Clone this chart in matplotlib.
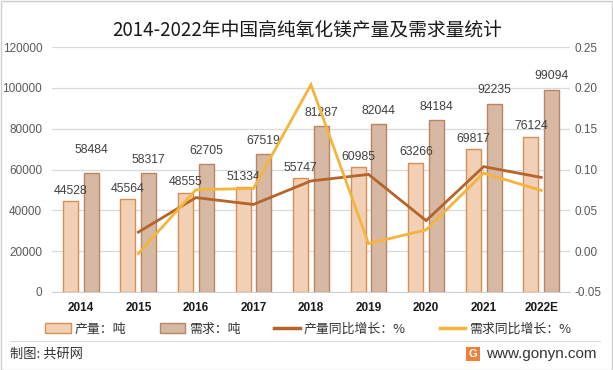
import matplotlib
matplotlib.use("Agg")
import matplotlib.pyplot as plt
from matplotlib.patches import Patch, Rectangle
from matplotlib.lines import Line2D

plt.rcParams['font.family'] = ['Liberation Sans', 'Noto Sans CJK SC', 'DejaVu Sans']

years = ["2014", "2015", "2016", "2017", "2018", "2019", "2020", "2021", "2022E"]
production = [44528, 45564, 48555, 51334, 55747, 60985, 63266, 69817, 76124]
demand = [58484, 58317, 62705, 67519, 81287, 82044, 84184, 92235, 99094]
prod_growth = [None, 0.0233, 0.0656, 0.0572, 0.0860, 0.0940, 0.0374, 0.1035, 0.0903]
dem_growth = [None, -0.0029, 0.0752, 0.0768, 0.2039, 0.0093, 0.0261, 0.0956, 0.0744]
left_ticks = [0, 20000, 40000, 60000, 80000, 100000, 120000]
right_ticks = [-0.05, 0.00, 0.05, 0.10, 0.15, 0.20, 0.25]

W, H = 613, 370
fig = plt.figure(figsize=(W / 100, H / 100), dpi=100)
fig.patch.set_facecolor('white')

ax = fig.add_axes([52 / W, 1 - 292 / H, (570 - 52) / W, (292 - 47) / H])
ax2 = ax.twinx()

x = list(range(len(years)))
bw = 0.26
off = 0.18
c_prod_fill, c_prod_edge = '#F2D0B6', '#D98E55'
c_dem_fill, c_dem_edge = '#D7B9A3', '#B98462'
c_pg, c_dg = '#B5652A', '#F5B43C'

ax.bar([i - off for i in x], production, width=bw, color=c_prod_fill, edgecolor=c_prod_edge, linewidth=1.0, zorder=2)
ax.bar([i + off for i in x], demand, width=bw, color=c_dem_fill, edgecolor=c_dem_edge, linewidth=1.0, zorder=2)

for i in x:
    ax.annotate(f"{production[i]}", (i - off, production[i]), xytext=(0, 7.5), textcoords='offset points',
                ha='center', va='center', fontsize=8.8, color='#404040', zorder=5)
    dy = 16 if i == 0 else 9.5
    ax.annotate(f"{demand[i]}", (i + off, demand[i]), xytext=(0, dy), textcoords='offset points',
                ha='center', va='center', fontsize=8.8, color='#404040', zorder=5)

ax.set_xlim(-0.5, len(years) - 0.5)
ax.set_ylim(0, 120000)
ax.set_yticks(left_ticks)
ax.set_yticklabels([str(v) for v in left_ticks])
ax.set_xticks(x)
ax.set_xticklabels(years, fontweight='bold', fontsize=8.5, color='#1a1a1a')
ax.tick_params(axis='x', length=0, pad=7)
ax.tick_params(axis='y', length=0, pad=7, labelsize=8.5, labelcolor='#595959')
ax.grid(axis='y', color='#d9d9d9', linewidth=0.9, zorder=0)
ax.set_axisbelow(True)
for s in ['top', 'right', 'left']:
    ax.spines[s].set_visible(False)
ax.spines['bottom'].set_color('#d0d0d0')

xs = x[1:]
ax2.plot(xs, prod_growth[1:], color=c_pg, linewidth=2.0, zorder=4, solid_joinstyle='miter')
ax2.plot(xs, dem_growth[1:], color=c_dg, linewidth=2.0, zorder=4, solid_joinstyle='miter')
ax2.set_ylim(-0.05, 0.25)
ax2.set_yticks(right_ticks)
ax2.set_yticklabels([f"{v:.2f}" for v in right_ticks])
ax2.tick_params(axis='y', length=0, pad=3, labelsize=8.5, labelcolor='#595959')
for s in ['top', 'right', 'left', 'bottom']:
    ax2.spines[s].set_visible(False)

fig.text(307 / W, 1 - 30 / H, "2014-2022年中国高纯氧化镁产量及需求量统计", ha='center', va='center',
         fontsize=13.5, color='#1a1a1a', family=['Noto Sans CJK SC', 'DejaVu Sans'])

handles = [
    Patch(facecolor=c_prod_fill, edgecolor=c_prod_edge, linewidth=1.0),
    Patch(facecolor=c_dem_fill, edgecolor=c_dem_edge, linewidth=1.0),
    Line2D([0], [0], color=c_pg, linewidth=2.5),
    Line2D([0], [0], color=c_dg, linewidth=2.5),
]
labels = ["产量：吨", "需求：吨", "产量同比增长：%", "需求同比增长：%"]
fig.legend(handles, labels, loc='center', bbox_to_anchor=(308 / W, 1 - 329 / H), ncol=4, frameon=False,
           prop={'family': ['Noto Sans CJK SC', 'DejaVu Sans'], 'size': 9.3},
           handlelength=2.0, handleheight=0.7, handletextpad=0.3, columnspacing=2.6, labelcolor='#333333')

fig.add_artist(Line2D([10 / W, 600 / W], [1 - 341 / H, 1 - 341 / H], color='#d9d9d9', linewidth=0.8))
fig.text(10 / W, 1 - 354 / H, "制图: 共研网", ha='left', va='center', fontsize=9.5, color='#333333',
         family=['Noto Sans CJK SC', 'DejaVu Sans'])
fig.add_artist(Rectangle((466 / W, 1 - 361 / H), 14 / W, 14 / H, facecolor='#F07F3C', edgecolor='none'))
fig.text(473 / W, 1 - 354 / H, "G", ha='center', va='center', fontsize=8, color='white', fontweight='bold')
fig.text(486 / W, 1 - 354 / H, "www.gonyn.com", ha='left', va='center', fontsize=11, color='#333333')

fig.add_artist(Rectangle((0.5 / W, 0.5 / H), (W - 1.5) / W, (H - 1.5) / H, facecolor='none',
                         edgecolor='#cfcfcf', linewidth=1.0))

fig.savefig("out.png", dpi=100, facecolor='white')
